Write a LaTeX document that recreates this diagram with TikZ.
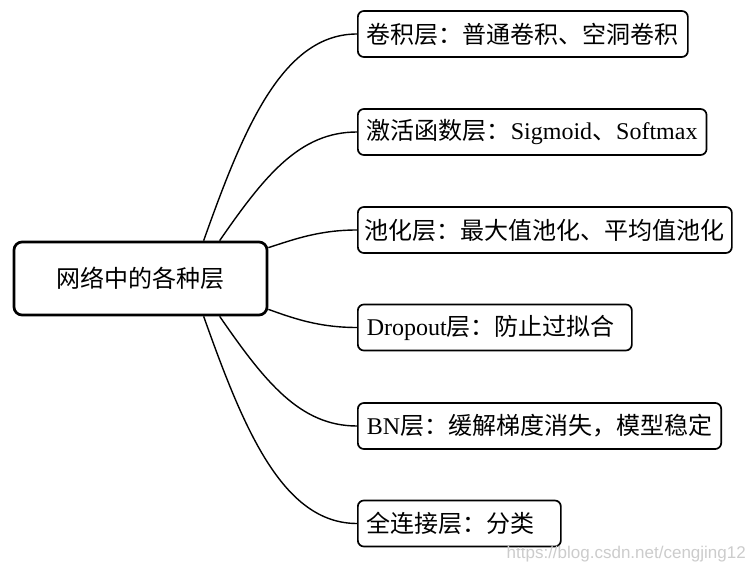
\documentclass[tikz,border=0pt]{standalone}
\usepackage{fontspec}
\setmainfont{Liberation Serif}
\newfontfamily\cjk{Noto Sans CJK SC}
\newfontfamily\wmfont{Liberation Sans}
\usetikzlibrary{calc}
\begin{document}
\begin{tikzpicture}[x=1pt,y=-1pt,
  box/.style={draw, line width=1.7pt, rounded corners=6pt, minimum height=46pt,
    inner xsep=9pt, inner ysep=0pt, anchor=west, font=\fontsize{24}{28}\selectfont},
  leftbox/.style={box, align=left, text width=#1},
  rootbox/.style={draw, line width=2.7pt, rounded corners=8pt, minimum width=253pt,
    minimum height=73pt, font=\fontsize{24}{28}\selectfont\cjk},
  link/.style={line width=1.4pt},
  wmark/.style={anchor=east, text=black!20, inner sep=0pt, font=\wmfont\fontsize{17}{19}\selectfont}]
\useasboundingbox (0,0) rectangle (753,569);
\fill[white] (0,0) rectangle (753,569);

\node[rootbox] (root) at (140.5,278.5) {网络中的各种层};

\node[box] (b1) at (357,34) {{\cjk 卷积层：普通卷积、空洞卷积}};
\node[box] (b2) at (357,132) {{\cjk 激活函数层：}Sigmoid{\cjk 、}Softmax};
\node[box, inner xsep=7pt] (b3) at (357,230) {{\cjk 池化层：最大值池化、平均值池化}};
\node[leftbox=256pt] (b4) at (357,327.5) {Dropout{\cjk 层：防止过拟合}};
\node[box] (b5) at (357,426) {BN{\cjk 层：缓解梯度消失，模型稳定}};
\node[leftbox=185pt] (b6) at (357,523.5) {{\cjk 全连接层：分类}};

\draw[link] ([xshift=191pt]root.north west) .. controls (243,130) and (282,34) .. (b1.west);
\draw[link] ([xshift=207pt]root.north west) .. controls (265,175) and (300,132) .. (b2.west);
\draw[link] ([yshift=-7pt]root.north east) .. controls (295,239) and (320,230) .. (b3.west);
\draw[link] ([yshift=7pt]root.south east) .. controls (295,319) and (320,327.5) .. (b4.west);
\draw[link] ([xshift=207pt]root.south west) .. controls (265,382) and (300,426) .. (b5.west);
\draw[link] ([xshift=191pt]root.south west) .. controls (243,427) and (282,523.5) .. (b6.west);

\node[wmark] (wm) at (746,554) {https://blog.csdn.net/cengjing12};
\end{tikzpicture}
\end{document}
